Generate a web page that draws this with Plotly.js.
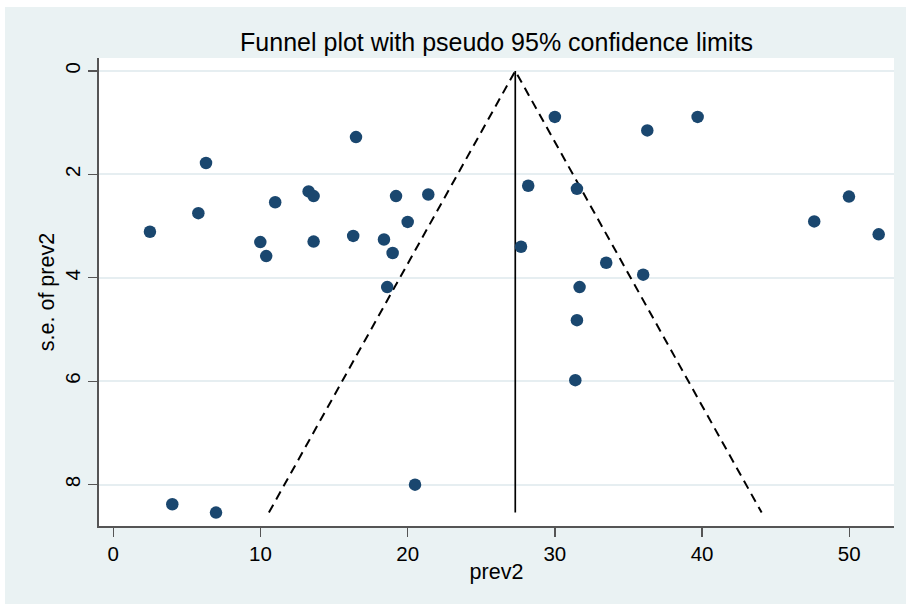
<!DOCTYPE html>
<html>
<head>
<meta charset="utf-8">
<script src="https://cdn.plot.ly/plotly-3.0.1.min.js"></script>
<style>
  html, body { margin: 0; padding: 0; background: #ffffff; width: 906px; height: 604px; overflow: hidden; }
  #chart { position: absolute; left: 5px; top: 7px; width: 901px; height: 597px; }
</style>
</head>
<body>
<div id="chart"></div>
<script>
// Study estimates (prevalence) and their standard errors
const prev2 = [16.49, 6.30, 5.78, 2.49, 11.0, 13.27, 13.61, 9.99, 10.39, 13.61, 16.30,
               30.0, 36.28, 28.19, 31.50, 19.21, 21.40, 20.0, 18.39, 18.98, 27.70,
               33.49, 36.0, 31.68, 18.61, 39.70, 49.98, 47.62, 52.0, 31.50, 31.39,
               4.01, 6.98, 20.50];
const sePrev2 = [1.28, 1.78, 2.75, 3.11, 2.54, 2.33, 2.42, 3.31, 3.58, 3.30, 3.19,
                 0.89, 1.15, 2.22, 2.28, 2.42, 2.39, 2.92, 3.26, 3.52, 3.40,
                 3.71, 3.94, 4.18, 4.18, 0.89, 2.43, 2.91, 3.16, 4.82, 5.98,
                 8.38, 8.54, 8.00];
// Pooled estimate and the largest standard error (funnel extent)
const pooled = 27.31;
const maxSE = 8.54;
const z95 = 1.96;
const yTicks = [0, 2, 4, 6, 8];
const xTicks = [0, 10, 20, 30, 40, 50];

const FONT = '"Liberation Sans", Arial, Helvetica, sans-serif';

const traces = [
  {
    type: 'scatter', mode: 'lines', hoverinfo: 'skip', showlegend: false,
    x: [pooled - z95 * maxSE, pooled, pooled + z95 * maxSE],
    y: [maxSE, 0, maxSE],
    line: { color: '#000000', width: 2, dash: '9px,6px' }
  },
  {
    type: 'scatter', mode: 'lines', hoverinfo: 'skip', showlegend: false,
    x: [pooled, pooled],
    y: [0, maxSE],
    line: { color: '#000000', width: 1.7 }
  },
  {
    type: 'scatter', mode: 'markers', showlegend: false,
    x: prev2, y: sePrev2,
    marker: { color: '#1a476f', size: 12.5, line: { width: 0 } }
  }
];

const layout = {
  width: 901, height: 597,
  margin: { l: 94, r: 12, t: 51, b: 78, pad: 0 },
  paper_bgcolor: '#eaf2f3',
  plot_bgcolor: '#ffffff',
  showlegend: false,
  font: { family: FONT, color: '#000000' },
  title: {
    text: 'Funnel plot with pseudo 95% confidence limits',
    font: { family: FONT, size: 25, color: '#000000' },
    x: 0.5, xref: 'paper', xanchor: 'center',
    y: 0.941, yref: 'container', yanchor: 'middle'
  },
  xaxis: {
    range: [-0.97, 53.04],
    tickvals: xTicks, ticktext: xTicks.map(String),
    showgrid: false, zeroline: false,
    showline: true, linecolor: '#555555', linewidth: 1.6,
    ticks: 'outside', ticklen: 9, tickwidth: 1.4, tickcolor: '#555555',
    tickfont: { family: FONT, size: 20.5, color: '#000000' },
    title: { text: 'prev2', font: { family: FONT, size: 21.5, color: '#000000' }, standoff: 0 },
    automargin: false
  },
  yaxis: {
    range: [8.8, -0.25],
    tickvals: yTicks, ticktext: yTicks.map(String),
    tickangle: -90,
    showgrid: true, gridcolor: '#e6eef1', gridwidth: 2,
    zeroline: false,
    showline: true, linecolor: '#555555', linewidth: 1.6,
    ticks: 'outside', ticklen: 9, tickwidth: 1.4, tickcolor: '#555555',
    tickfont: { family: FONT, size: 20.5, color: '#000000' },
    title: { text: 's.e. of prev2', font: { family: FONT, size: 21.5, color: '#000000' }, standoff: 0 },
    automargin: false
  }
};

Plotly.newPlot('chart', traces, layout, { displayModeBar: false, staticPlot: true });
</script>
</body>
</html>
